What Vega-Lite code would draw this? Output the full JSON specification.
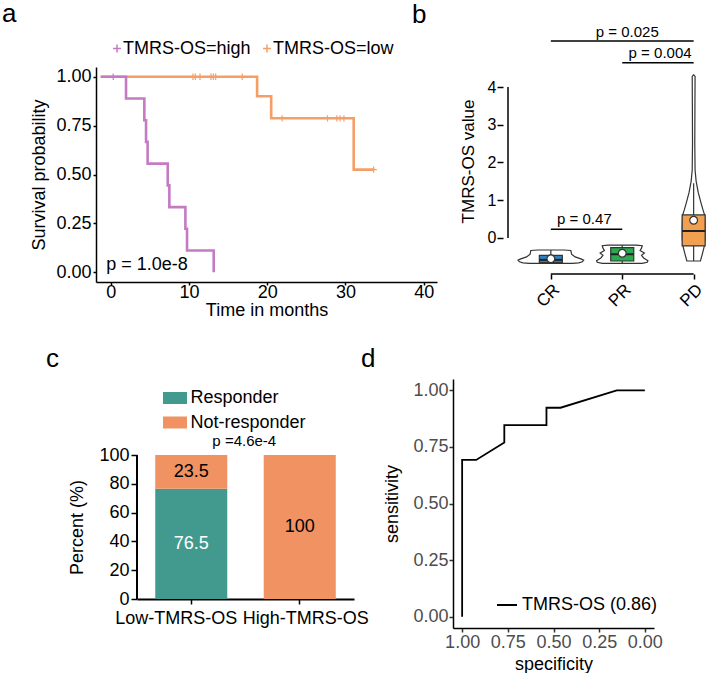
{
  "$schema": "https://vega.github.io/schema/vega-lite/v6.json",
  "padding": {"left": 2, "top": 1, "right": 0, "bottom": 0},
  "background": "white",
  "config": {
    "font": "Liberation Sans",
    "view": {"stroke": null},
    "axis": {"grid": false, "domainColor": "black", "tickColor": "black", "labelColor": "black", "titleColor": "black", "titleFontWeight": "normal", "labelFontSize": 18, "titleFontSize": 18, "domainWidth": 1.5, "tickWidth": 1.5, "tickSize": 4, "labelFont": "Liberation Sans", "titleFont": "Liberation Sans", "labelOverlap": false},
    "legend": {"labelFont": "Liberation Sans", "labelFontSize": 18, "labelColor": "black", "padding": 0},
    "title": {"font": "Liberation Sans", "fontSize": 26, "fontWeight": "normal", "anchor": "start", "frame": "group", "color": "black"}
  },
  "spacing": 27,
  "center": true,
  "resolve": {"scale": {"color": "independent"}, "legend": {"color": "independent"}},
  "vconcat": [
    {
      "spacing": -25,
      "resolve": {"scale": {"color": "independent"}, "legend": {"color": "independent"}},
      "hconcat": [
        {
          "width": 341,
          "height": 215,
          "title": {"text": "a", "dx": -94, "offset": 12.5},
          "layer": [
            {
              "data": {"values": [
                {"grp": "TMRS-OS=low", "t": -1.3, "s": 1},
                {"grp": "TMRS-OS=low", "t": 18.7, "s": 0.9},
                {"grp": "TMRS-OS=low", "t": 20.5, "s": 0.7875},
                {"grp": "TMRS-OS=low", "t": 31.05, "s": 0.525},
                {"grp": "TMRS-OS=low", "t": 33.6, "s": 0.525},
                {"grp": "TMRS-OS=high", "t": -1.3, "s": 1},
                {"grp": "TMRS-OS=high", "t": 1.94, "s": 0.8889},
                {"grp": "TMRS-OS=high", "t": 4.28, "s": 0.7778},
                {"grp": "TMRS-OS=high", "t": 4.5, "s": 0.6667},
                {"grp": "TMRS-OS=high", "t": 4.7, "s": 0.5556},
                {"grp": "TMRS-OS=high", "t": 7.27, "s": 0.4444},
                {"grp": "TMRS-OS=high", "t": 7.48, "s": 0.3333},
                {"grp": "TMRS-OS=high", "t": 9.53, "s": 0.2222},
                {"grp": "TMRS-OS=high", "t": 9.74, "s": 0.1111},
                {"grp": "TMRS-OS=high", "t": 13.15, "s": 0}
              ]},
              "mark": {"type": "line", "interpolate": "step-after", "strokeWidth": 2.6},
              "encoding": {
                "x": {"field": "t", "type": "quantitative", "scale": {"domain": [-1.9, 41.7], "nice": false, "zero": false}, "axis": {"values": [0, 10, 20, 30, 40], "title": "Time in months", "tickSize": 3, "labelPadding": -2, "titlePadding": 0}},
                "y": {"field": "s", "type": "quantitative", "scale": {"domain": [-0.05, 1.05], "nice": false, "zero": false}, "axis": {"values": [0, 0.25, 0.5, 0.75, 1], "format": ".2f", "title": "Survival probability", "labelPadding": 2, "titlePadding": 7, "tickSize": 3}},
                "color": {"field": "grp", "type": "nominal", "scale": {"domain": ["TMRS-OS=high", "TMRS-OS=low"], "range": ["#C47BC4", "#F59E66"]},
                  "legend": {"title": null, "orient": "none", "legendX": 12, "legendY": -27.5, "direction": "horizontal", "symbolType": "M-1,0H1M0,-1V1", "symbolSize": 64, "symbolStrokeWidth": 1.5, "symbolFillColor": "transparent", "labelOffset": -3, "columnPadding": 7}}
              }
            },
            {
              "data": {"values": [
                {"grp": "TMRS-OS=high", "t": 0.3, "s": 1},
                {"grp": "TMRS-OS=low", "t": 10.5, "s": 1},
                {"grp": "TMRS-OS=low", "t": 10.8, "s": 1},
                {"grp": "TMRS-OS=low", "t": 11.4, "s": 1},
                {"grp": "TMRS-OS=low", "t": 12.8, "s": 1},
                {"grp": "TMRS-OS=low", "t": 13.1, "s": 1},
                {"grp": "TMRS-OS=low", "t": 13.4, "s": 1},
                {"grp": "TMRS-OS=low", "t": 16.8, "s": 1},
                {"grp": "TMRS-OS=low", "t": 21.9, "s": 0.7875},
                {"grp": "TMRS-OS=low", "t": 27.7, "s": 0.7875},
                {"grp": "TMRS-OS=low", "t": 28.9, "s": 0.7875},
                {"grp": "TMRS-OS=low", "t": 29.3, "s": 0.7875},
                {"grp": "TMRS-OS=low", "t": 29.8, "s": 0.7875},
                {"grp": "TMRS-OS=low", "t": 33.6, "s": 0.525}
              ]},
              "mark": {"type": "point", "shape": "M0,-1V1M-1,0H1", "size": 40, "strokeWidth": 1.2, "filled": false, "opacity": 1},
              "encoding": {
                "x": {"field": "t", "type": "quantitative"},
                "y": {"field": "s", "type": "quantitative"},
                "color": {"field": "grp", "type": "nominal"}
              }
            },
            {
              "data": {"values": [{"t": -0.6, "s": 0.035, "label": "p = 1.0e-8"}]},
              "mark": {"type": "text", "align": "left", "baseline": "middle", "fontSize": 18, "color": "black"},
              "encoding": {
                "x": {"field": "t", "type": "quantitative"},
                "y": {"field": "s", "type": "quantitative"},
                "text": {"field": "label"}
              }
            }
          ]
        },
        {
          "width": 208,
          "height": 207,
          "title": {"text": "b", "dx": -91, "offset": -3.5},
          "layer": [
            {
              "data": {"values": [
                {"g": "CR", "y": -0.318, "x": 0.82, "x2": 1.18},
                {"g": "CR", "y": -0.33, "x": 0.72, "x2": 1.28},
                {"g": "CR", "y": -0.43, "x": 0.71, "x2": 1.29},
                {"g": "CR", "y": -0.5, "x": 0.66, "x2": 1.34},
                {"g": "CR", "y": -0.56, "x": 0.57, "x2": 1.43},
                {"g": "CR", "y": -0.59, "x": 0.54, "x2": 1.46},
                {"g": "CR", "y": -0.63, "x": 0.56, "x2": 1.44},
                {"g": "CR", "y": -0.66, "x": 0.61, "x2": 1.39},
                {"g": "CR", "y": -0.672, "x": 0.7, "x2": 1.3},
                {"g": "PR", "y": -0.19, "x": 1.8, "x2": 2.2},
                {"g": "PR", "y": -0.205, "x": 1.72, "x2": 2.28},
                {"g": "PR", "y": -0.27, "x": 1.73, "x2": 2.27},
                {"g": "PR", "y": -0.33, "x": 1.75, "x2": 2.25},
                {"g": "PR", "y": -0.4, "x": 1.69, "x2": 2.31},
                {"g": "PR", "y": -0.46, "x": 1.73, "x2": 2.27},
                {"g": "PR", "y": -0.53, "x": 1.7, "x2": 2.3},
                {"g": "PR", "y": -0.6, "x": 1.64, "x2": 2.36},
                {"g": "PR", "y": -0.645, "x": 1.65, "x2": 2.35},
                {"g": "PR", "y": -0.67, "x": 1.72, "x2": 2.28},
                {"g": "PD", "y": 4.32, "x": 2.998, "x2": 3.002},
                {"g": "PD", "y": 4.28, "x": 2.98, "x2": 3.02},
                {"g": "PD", "y": 3.5, "x": 2.982, "x2": 3.018},
                {"g": "PD", "y": 2.5, "x": 2.984, "x2": 3.016},
                {"g": "PD", "y": 1.8, "x": 2.98, "x2": 3.02},
                {"g": "PD", "y": 1.5, "x": 2.965, "x2": 3.035},
                {"g": "PD", "y": 1.2, "x": 2.935, "x2": 3.065},
                {"g": "PD", "y": 0.95, "x": 2.9, "x2": 3.1},
                {"g": "PD", "y": 0.75, "x": 2.87, "x2": 3.13},
                {"g": "PD", "y": 0.6, "x": 2.845, "x2": 3.155},
                {"g": "PD", "y": 0.3, "x": 2.84, "x2": 3.16},
                {"g": "PD", "y": 0.0, "x": 2.84, "x2": 3.16},
                {"g": "PD", "y": -0.21, "x": 2.85, "x2": 3.15},
                {"g": "PD", "y": -0.4, "x": 2.875, "x2": 3.125},
                {"g": "PD", "y": -0.61, "x": 2.905, "x2": 3.095}
              ]},
              "mark": {"type": "area", "orient": "horizontal", "fill": "white", "stroke": "#333333", "strokeWidth": 1.2},
              "encoding": {
                "y": {"field": "y", "type": "quantitative", "scale": {"domain": [-0.954, 4.53], "nice": false, "zero": false}, "axis": {"values": [0, 1, 2, 3, 4], "domain": false, "title": "TMRS-OS value", "titleY": 94, "labelFontSize": 16, "titleFontSize": 17, "tickSize": 6, "labelPadding": 1, "titlePadding": 10}},
                "x": {"field": "x", "type": "quantitative", "scale": {"domain": [0.4, 3.173], "nice": false, "zero": false}, "axis": {"values": [1, 2, 3], "domain": false, "title": null, "labelExpr": "datum.value == 1 ? 'CR' : datum.value == 2 ? 'PR' : 'PD'", "labelAngle": -45, "labelFontSize": 17, "tickSize": 5, "labelPadding": 2}},
                "x2": {"field": "x2"},
                "detail": {"field": "g"}
              }
            },
            {
              "data": {"values": [
                {"x": 1, "y": -0.318, "y2": -0.672},
                {"x": 2, "y": -0.19, "y2": -0.67},
                {"x": 3, "y": 1.45, "y2": -0.61}
              ]},
              "mark": {"type": "rule", "color": "#333333", "strokeWidth": 1.2},
              "encoding": {
                "x": {"field": "x", "type": "quantitative"},
                "y": {"field": "y", "type": "quantitative"},
                "y2": {"field": "y2"}
              }
            },
            {
              "data": {"values": [
                {"g": "CR", "x": 1, "y": -0.46, "y2": -0.65},
                {"g": "PR", "x": 2, "y": -0.257, "y2": -0.61},
                {"g": "PD", "x": 3, "y": 0.61, "y2": -0.21}
              ]},
              "mark": {"type": "bar", "width": 23, "stroke": "#333333", "strokeWidth": 1.2},
              "encoding": {
                "x": {"field": "x", "type": "quantitative"},
                "y": {"field": "y", "type": "quantitative"},
                "y2": {"field": "y2"},
                "fill": {"field": "g", "type": "nominal", "scale": {"domain": ["CR", "PR", "PD"], "range": ["#2F80C0", "#2BAA50", "#F0A050"]}, "legend": null}
              }
            },
            {
              "data": {"values": [
                {"x": 1, "y": -0.58},
                {"x": 2, "y": -0.43},
                {"x": 3, "y": 0.185}
              ]},
              "mark": {"type": "tick", "orient": "horizontal", "size": 23, "thickness": 2, "color": "#222222", "opacity": 1},
              "encoding": {
                "x": {"field": "x", "type": "quantitative"},
                "y": {"field": "y", "type": "quantitative"}
              }
            },
            {
              "data": {"values": [
                {"x": 1, "y": -0.55},
                {"x": 2, "y": -0.405},
                {"x": 3, "y": 0.47}
              ]},
              "mark": {"type": "point", "filled": true, "fill": "white", "stroke": "#333333", "strokeWidth": 1.2, "size": 60, "opacity": 1},
              "encoding": {
                "x": {"field": "x", "type": "quantitative"},
                "y": {"field": "y", "type": "quantitative"}
              }
            },
            {
              "data": {"values": [
                {"x": 1, "x2": 3, "y": 5.22, "y2": 5.22},
                {"x": 2, "x2": 3, "y": 4.64, "y2": 4.64},
                {"x": 1, "x2": 2, "y": 0.23, "y2": 0.23},
                {"x": 0.4, "x2": 0.4, "y": 0, "y2": 4},
                {"x": 1, "x2": 3, "y": -0.954, "y2": -0.954}
              ]},
              "mark": {"type": "rule", "color": "black", "strokeWidth": 1.5},
              "encoding": {
                "x": {"field": "x", "type": "quantitative"},
                "x2": {"field": "x2"},
                "y": {"field": "y", "type": "quantitative"},
                "y2": {"field": "y2"}
              }
            },
            {
              "data": {"values": [
                {"x": 2.07, "y": 5.47, "label": "p = 0.025"},
                {"x": 2.53, "y": 4.91, "label": "p = 0.004"},
                {"x": 1.47, "y": 0.495, "label": "p = 0.47"}
              ]},
              "mark": {"type": "text", "align": "center", "baseline": "middle", "fontSize": 15, "color": "black"},
              "encoding": {
                "x": {"field": "x", "type": "quantitative"},
                "y": {"field": "y", "type": "quantitative"},
                "text": {"field": "label"}
              }
            }
          ]
        }
      ]
    },
    {
      "spacing": -8,
      "resolve": {"scale": {"color": "independent"}, "legend": {"color": "independent"}},
      "hconcat": [
        {
          "width": 217,
          "height": 220,
          "title": {"text": "c", "dx": -91, "offset": 7},
          "resolve": {"scale": {"x": "independent"}},
          "layer": [
            {
              "data": {"values": [
                {"grp": "Low-TMRS-OS", "resp": "Responder", "k": 1, "pct": 76.5, "lab": "76.5"},
                {"grp": "Low-TMRS-OS", "resp": "Not-responder", "k": 2, "pct": 23.5, "lab": "23.5"},
                {"grp": "High-TMRS-OS", "resp": "Responder", "k": 1, "pct": 0, "lab": ""},
                {"grp": "High-TMRS-OS", "resp": "Not-responder", "k": 2, "pct": 100, "lab": "100"}
              ]},
              "layer": [
                {
                  "mark": {"type": "bar"},
                  "encoding": {
                    "x": {"field": "grp", "type": "nominal", "sort": ["Low-TMRS-OS", "High-TMRS-OS"], "scale": {"paddingInner": 0.336, "paddingOuter": 0.168}, "axis": {"title": null, "labelAngle": 0, "tickSize": 5, "domainWidth": 2, "labelPadding": 5, "labelOffset": {"condition": {"test": "datum.value === 'Low-TMRS-OS'", "value": -15}, "value": 6}}},
                    "y": {"field": "pct", "type": "quantitative", "stack": "zero", "title": "Percent (%)", "scale": {"domain": [0, 152.78], "nice": false}, "axis": {"values": [0, 20, 40, 60, 80, 100], "domain": false, "tickSize": 6, "labelPadding": 2, "titlePadding": 12, "titleY": 148}},
                    "color": {"field": "resp", "type": "nominal", "scale": {"domain": ["Responder", "Not-responder"], "range": ["#429A8F", "#F09262"]},
                      "legend": {"title": null, "orient": "none", "legendX": 26, "legendY": 7, "direction": "vertical", "symbolType": "M-1,-0.5H1V0.5H-1Z", "symbolSize": 576, "symbolStrokeWidth": 0, "labelOffset": 3.4, "rowPadding": 3.5}},
                    "order": {"field": "k", "type": "quantitative"}
                  }
                },
                {
                  "transform": [
                    {"stack": "pct", "groupby": ["grp"], "sort": [{"field": "k", "order": "ascending"}], "as": ["y0", "y1"]},
                    {"calculate": "(datum.y0 + datum.y1) / 2", "as": "mid"},
                    {"filter": "datum.pct > 0"}
                  ],
                  "mark": {"type": "text", "fontSize": 18, "baseline": "middle", "align": "center"},
                  "encoding": {
                    "x": {"field": "grp", "type": "nominal", "sort": ["Low-TMRS-OS", "High-TMRS-OS"]},
                    "y": {"field": "mid", "type": "quantitative", "title": "Percent (%)"},
                    "text": {"field": "lab"},
                    "color": {"condition": {"test": "datum.resp === 'Responder'", "value": "white"}, "value": "black"}
                  }
                },
                {
                  "transform": [{"filter": "datum.grp === 'Low-TMRS-OS' && datum.k === 1"}],
                  "mark": {"type": "text", "fontSize": 15, "baseline": "middle", "align": "center", "dx": 17, "color": "black", "text": "p =4.6e-4"},
                  "encoding": {
                    "x": {"field": "grp", "type": "nominal", "sort": ["Low-TMRS-OS", "High-TMRS-OS"], "bandPosition": 1},
                    "y": {"datum": 109.7, "type": "quantitative"}
                  }
                }
              ]
            },
            {
              "data": {"values": [{"edge": 0, "lo": 0, "hi": 100}]},
              "mark": {"type": "rule", "color": "black", "strokeWidth": 2},
              "encoding": {
                "x": {"field": "edge", "type": "quantitative", "scale": {"domain": [0, 1]}, "axis": null},
                "y": {"field": "lo", "type": "quantitative", "title": "Percent (%)"},
                "y2": {"field": "hi"}
              }
            }
          ]
        },
        {
          "width": 201,
          "height": 249,
          "title": {"text": "d", "dx": -92, "offset": 7},
          "data": {"values": [
            {"i": 1, "spec": 1.0, "sens": 0.0, "m": "TMRS-OS (0.86)"},
            {"i": 2, "spec": 1.0, "sens": 0.6923, "m": "TMRS-OS (0.86)"},
            {"i": 3, "spec": 0.9231, "sens": 0.6923, "m": "TMRS-OS (0.86)"},
            {"i": 4, "spec": 0.7692, "sens": 0.7692, "m": "TMRS-OS (0.86)"},
            {"i": 5, "spec": 0.7692, "sens": 0.8462, "m": "TMRS-OS (0.86)"},
            {"i": 6, "spec": 0.5385, "sens": 0.8462, "m": "TMRS-OS (0.86)"},
            {"i": 7, "spec": 0.5385, "sens": 0.9231, "m": "TMRS-OS (0.86)"},
            {"i": 8, "spec": 0.4615, "sens": 0.9231, "m": "TMRS-OS (0.86)"},
            {"i": 9, "spec": 0.1538, "sens": 1.0, "m": "TMRS-OS (0.86)"},
            {"i": 10, "spec": 0.0, "sens": 1.0, "m": "TMRS-OS (0.86)"}
          ]},
          "mark": {"type": "line", "strokeWidth": 1.8},
          "encoding": {
            "x": {"field": "spec", "type": "quantitative", "scale": {"domain": [-0.05, 1.05], "reverse": true, "nice": false, "zero": false}, "axis": {"values": [0, 0.25, 0.5, 0.75, 1], "format": ".2f", "title": "specificity", "labelColor": "#4D4D4D", "tickColor": "#333333", "labelPadding": 1, "titlePadding": 4}},
            "y": {"field": "sens", "type": "quantitative", "scale": {"domain": [-0.05, 1.05], "nice": false, "zero": false}, "axis": {"values": [0, 0.25, 0.5, 0.75, 1], "format": ".2f", "title": "sensitivity", "labelColor": "#4D4D4D", "tickColor": "#333333", "labelPadding": 1, "titlePadding": 11}},
            "order": {"field": "i", "type": "quantitative"},
            "color": {"field": "m", "type": "nominal", "scale": {"range": ["black"]},
              "legend": {"title": null, "orient": "none", "legendX": 31, "legendY": 203, "padding": 12, "symbolType": "stroke", "symbolSize": 400, "symbolStrokeWidth": 2, "labelOffset": 4}}
          }
        }
      ]
    }
  ]
}
